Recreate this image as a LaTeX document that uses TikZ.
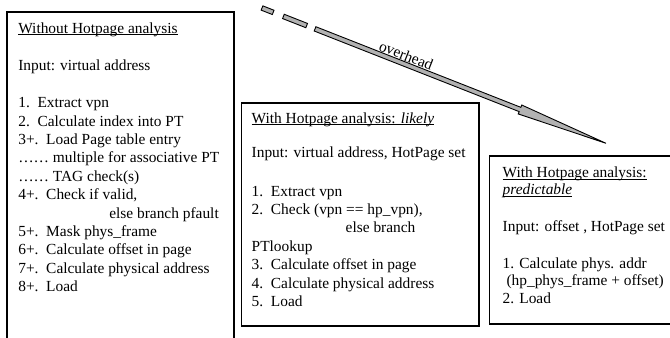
\documentclass[tikz,border=0pt]{standalone}
\usepackage{fontspec}
\setmainfont{Liberation Serif}
\usetikzlibrary{calc}
\newcommand\myul[1]{\setbox0\hbox{#1}\rlap{\rule[-1.9bp]{\wd0}{0.75bp}}\box0}
\newcommand\shaftpiece[2]{%
  \path ($(T)!#1!(H)$) coordinate (sa) ($(T)!#2!(H)$) coordinate (sb);
  \draw[arrowbody] ($(sa)!2.3bp!90:(H)$) -- ($(sb)!2.3bp!90:(H)$) -- ($(sb)!2.3bp!-90:(H)$) -- ($(sa)!2.3bp!-90:(H)$) -- cycle;}
\begin{document}
\begin{tikzpicture}[x=1bp,y=1bp,
  box/.style={draw=black, line width=1.4bp, inner sep=0, outer sep=0, anchor=north west},
  ln/.style={anchor=base west, inner sep=0, outer sep=0, font=\fontsize{15.4bp}{18bp}\selectfont},
  arrowbody/.style={draw=black, fill=black!30, line width=0.9bp, line join=miter},
]
\clip (0,0) rectangle (670,-337);
\fill[white] (0,0) rectangle (670,-337);
% boxes
\node[box, minimum width=227bp, minimum height=340bp] (b1) at (7,-12) {};
\node[box, minimum width=237.5bp, minimum height=223bp] (b2) at (241.5,-103) {};
\node[box, minimum width=200bp, minimum height=168bp] (b3) at (489.5,-156) {};
% left box text
\node[ln] (l1t) at (18.3,-33) {\myul{Without Hotpage analysis}};
\node[ln] (l1i) at (18.3,-70.7) {Input: virtual address};
\foreach \k/\t in {0/{1.\ \ Extract vpn},
  1/{2.\ \ Calculate index into PT},
  2/{3+.\ \ Load Page table entry},
  3/{…… multiple for associative PT},
  4/{…… TAG check(s)},
  5/{4+.\ \ Check if valid,},
  6/{\hspace*{91bp}else branch pfault},
  7/{5+.\ \ Mask phys\_frame},
  8/{6+.\ \ Calculate offset in page},
  9/{7+.\ \ Calculate physical address},
  10/{8+.\ \ Load}}
  \node[ln] (l1-\k) at (18.3,{-107.7-18.4*\k}) {\t};
% middle box text
\node[ln] (l2t) at (251.7,-123) {\myul{With Hotpage analysis: \textit{likely}}};
\node[ln] (l2i) at (251.7,-157.5) {Input: virtual address, HotPage set};
\foreach \k/\t in {0/{1.\ \ Extract vpn},
  1/{2.\ \ Check (vpn == hp\_vpn),},
  2/{\hspace*{94bp}else branch},
  3/{PTlookup},
  4/{3.\ \ Calculate offset in page},
  5/{4.\ \ Calculate physical address},
  6/{5.\ \ Load}}
  \node[ln] (l2-\k) at (251.7,{-196-18.4*\k}) {\t};
% right box text
\node[ln] (l3t) at (502.7,-177.5) {\myul{With Hotpage analysis:}};
\node[ln] (l3p) at (502.7,-194.8) {\myul{\textit{predictable}}};
\node[ln] (l3i) at (502.7,-231) {Input: offset , HotPage set};
\node[ln] (l3-0) at (502.7,-268) {1. Calculate phys. addr};
\node[ln] (l3-1) at (502.7,-285.5) {\ (hp\_phys\_frame + offset)};
\node[ln] (l3-2) at (502.7,-303) {2. Load};
% arrow
\coordinate (T) at (262,-8);
\coordinate (H) at (606,-143.3);
\coordinate (B) at ($(T)!0.75!(H)$);
\shaftpiece{0bp}{12bp}
\shaftpiece{23bp}{48bp}
\path ($(T)!57bp!(H)$) coordinate (s3);
\draw[arrowbody] ($(s3)!2.3bp!90:(H)$) -- ($(B)!2.3bp!90:(H)$) -- ($(B)!4.8bp!90:(H)$) -- (H) -- ($(B)!4.8bp!-90:(H)$) -- ($(B)!2.3bp!-90:(H)$) -- ($(s3)!2.3bp!-90:(H)$) -- cycle;
\path (T) -- (H) node[pos=0.41, sloped, above=3bp, inner sep=0, font=\fontsize{15.4bp}{18bp}\selectfont] (ov) {overhead};
\end{tikzpicture}
\end{document}
